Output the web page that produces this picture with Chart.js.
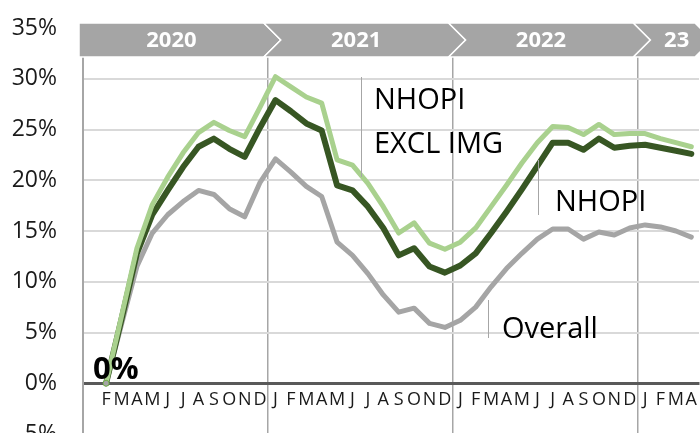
<!DOCTYPE html>
<html>
<head>
<meta charset="utf-8">
<script src="https://cdn.jsdelivr.net/npm/chart.js@4/dist/chart.umd.min.js"></script>
<style>
  html, body { margin: 0; padding: 0; background: #fff; overflow: hidden; }
  canvas { display: block; }
</style>
</head>
<body>
<canvas id="chart" width="700" height="470"></canvas>
<script>
// months Jan 2020 .. Apr 2023 (Jan 2020 label left blank, series start in Feb)
const monthLabels = ['', 'F', 'M', 'A', 'M', 'J', 'J', 'A', 'S', 'O', 'N', 'D',
    'J', 'F', 'M', 'A', 'M', 'J', 'J', 'A', 'S', 'O', 'N', 'D',
    'J', 'F', 'M', 'A', 'M', 'J', 'J', 'A', 'S', 'O', 'N', 'D',
    'J', 'F', 'M', 'A'];

const yearLabels = ['2020', '2021', '2022', '23'];
const yearStarts = [0, 12, 24, 36];   // category index where each year starts

// % change vs Feb 2020
const nhopiExclImg = [null, 0, 6.6, 13.3, 17.6, 20.3, 22.7, 24.7, 25.7, 24.9, 24.3, 27.2,
    30.2, 29.2, 28.2, 27.6, 22.0, 21.5, 19.7, 17.4, 14.8, 15.8, 13.8, 13.2,
    13.9, 15.3, 17.4, 19.5, 21.7, 23.7, 25.3, 25.2, 24.5, 25.5, 24.5, 24.6,
    24.6, 24.1, 23.7, 23.3];

const nhopi = [null, 0, 6.3, 12.8, 16.6, 19.0, 21.3, 23.3, 24.1, 23.1, 22.3, 25.2,
    27.9, 26.8, 25.6, 24.9, 19.5, 19.0, 17.4, 15.3, 12.6, 13.3, 11.5, 10.9,
    11.6, 12.8, 14.8, 16.9, 19.1, 21.4, 23.7, 23.7, 23.0, 24.1, 23.2, 23.4,
    23.5, 23.2, 22.9, 22.6];

const overall = [null, 0, 5.8, 11.5, 14.8, 16.6, 17.9, 19.0, 18.6, 17.2, 16.4, 19.8,
    22.1, 20.8, 19.4, 18.4, 13.9, 12.6, 10.8, 8.7, 7.0, 7.4, 5.9, 5.5,
    6.2, 7.5, 9.5, 11.3, 12.8, 14.2, 15.2, 15.2, 14.2, 14.9, 14.6, 15.3,
    15.6, 15.4, 15.0, 14.4];

const FONT = '"Open Sans", "Noto Sans", sans-serif';

// year chevron band across the top
const yearBand = {
    id: 'yearBand',
    afterDraw(chart) {
        const ctx = chart.ctx;
        const x = chart.scales.x;
        const area = chart.chartArea;
        const half = (x.getPixelForValue(1) - x.getPixelForValue(0)) / 2;
        const top = area.top - 5, bot = top + 34, mid = (top + bot) / 2;
        const tip = 17;

        function edge(i) {
            return x.getPixelForValue(i) - half - 4;
        }

        ctx.save();
        for (let k = 0; k < yearStarts.length; k++) {
            const L = edge(yearStarts[k]);
            const R = k < yearStarts.length - 1 ? edge(yearStarts[k + 1]) : edge(monthLabels.length);
            ctx.beginPath();
            ctx.moveTo(L, top);
            ctx.lineTo(R, top);
            ctx.lineTo(R + tip, mid);
            ctx.lineTo(R, bot);
            ctx.lineTo(L, bot);
            if (k > 0) ctx.lineTo(L + tip, mid);
            ctx.closePath();
            ctx.fillStyle = '#a5a5a5';
            ctx.fill();
            ctx.strokeStyle = '#ffffff';
            ctx.lineWidth = 1.5;
            ctx.stroke();

            let cx = (L + R) / 2;
            if (k === yearStarts.length - 1) cx = (L + chart.width + 20) / 2;
            ctx.fillStyle = '#ffffff';
            ctx.font = 'bold 22px ' + FONT;
            ctx.textAlign = 'center';
            ctx.textBaseline = 'middle';
            ctx.fillText(yearLabels[k], cx, mid + 1);
        }
        ctx.restore();
    }
};

// series labels with leader lines, and the "0%" start label
const seriesNotes = {
    id: 'seriesNotes',
    afterDatasetsDraw(chart) {
        const ctx = chart.ctx;
        ctx.save();
        ctx.strokeStyle = '#a6a6a6';
        ctx.lineWidth = 1;
        const leaders = [[361, 77, 177], [538, 160, 215], [488, 300, 338]];
        leaders.forEach(function (l) {
            ctx.beginPath();
            ctx.moveTo(l[0] + 0.5, l[1]);
            ctx.lineTo(l[0] + 0.5, l[2]);
            ctx.stroke();
        });

        ctx.fillStyle = '#000';
        ctx.font = '29px ' + FONT;
        ctx.textAlign = 'left';
        ctx.textBaseline = 'alphabetic';
        ctx.fillText('NHOPI', 374, 109);
        ctx.fillText('EXCL IMG', 374, 153);
        ctx.fillText('NHOPI', 555, 211);
        ctx.fillText('Overall', 502, 338);

        // start point label
        const p = chart.getDatasetMeta(0).data[1];
        ctx.font = 'bold 31px ' + FONT;
        ctx.fillText(nhopiExclImg[1] + '%', p.x - 13, p.y - 4);
        ctx.restore();
    }
};

const ctx = document.getElementById('chart').getContext('2d');

new Chart(ctx, {
    type: 'line',
    data: {
        labels: monthLabels,
        datasets: [{
            label: 'NHOPI EXCL IMG',
            data: nhopiExclImg,
            borderColor: '#a9d18e',
            borderWidth: 5,
            pointRadius: c => (c.dataIndex === 1 ? 3 : 0),
            pointBackgroundColor: '#a5a5a5',
            pointBorderColor: '#70ad47',
            pointBorderWidth: 1,
            tension: 0,
            borderJoinStyle: 'round',
            borderCapStyle: 'round'
        }, {
            label: 'NHOPI',
            data: nhopi,
            borderColor: '#375623',
            borderWidth: 6,
            pointRadius: 0,
            tension: 0,
            borderJoinStyle: 'round',
            borderCapStyle: 'round'
        }, {
            label: 'Overall',
            data: overall,
            borderColor: '#a5a5a5',
            borderWidth: 5,
            pointRadius: 0,
            tension: 0,
            borderJoinStyle: 'round',
            borderCapStyle: 'round'
        }]
    },
    options: {
        responsive: false,
        animation: false,
        layout: {
            padding: { left: 0, right: 1, top: 28, bottom: 36 }
        },
        plugins: {
            legend: { display: false },
            tooltip: { enabled: false }
        },
        scales: {
            x: {
                position: { y: 0 },
                offset: true,
                afterFit: function (scale) { scale.height = 0; },
                grid: {
                    offset: true,
                    drawTicks: true,
                    tickLength: 6,
                    tickColor: 'rgba(0,0,0,0)',
                    lineWidth: 1.5,
                    color: c => (c.index > 0 && c.index % 12 === 0 ? '#a6a6a6' : 'rgba(0,0,0,0)')
                },
                border: { color: '#595959', width: 3 },
                ticks: {
                    autoSkip: false,
                    maxRotation: 0,
                    minRotation: 0,
                    padding: 0,
                    color: '#1a1a1a',
                    font: { family: FONT, size: 18 }
                }
            },
            y: {
                min: -5,
                max: 35,
                afterFit: function (scale) { scale.width = 83; },
                grid: {
                    color: '#d9d9d9',
                    lineWidth: 2,
                    drawTicks: true,
                    tickLength: 26,
                    tickColor: 'rgba(0,0,0,0)'
                },
                border: { color: '#a6a6a6', width: 2 },
                ticks: {
                    stepSize: 5,
                    padding: 0,
                    color: '#1a1a1a',
                    font: { family: FONT, size: 23 },
                    callback: v => v + '%'
                }
            }
        }
    },
    plugins: [yearBand, seriesNotes]
});
</script>
</body>
</html>
